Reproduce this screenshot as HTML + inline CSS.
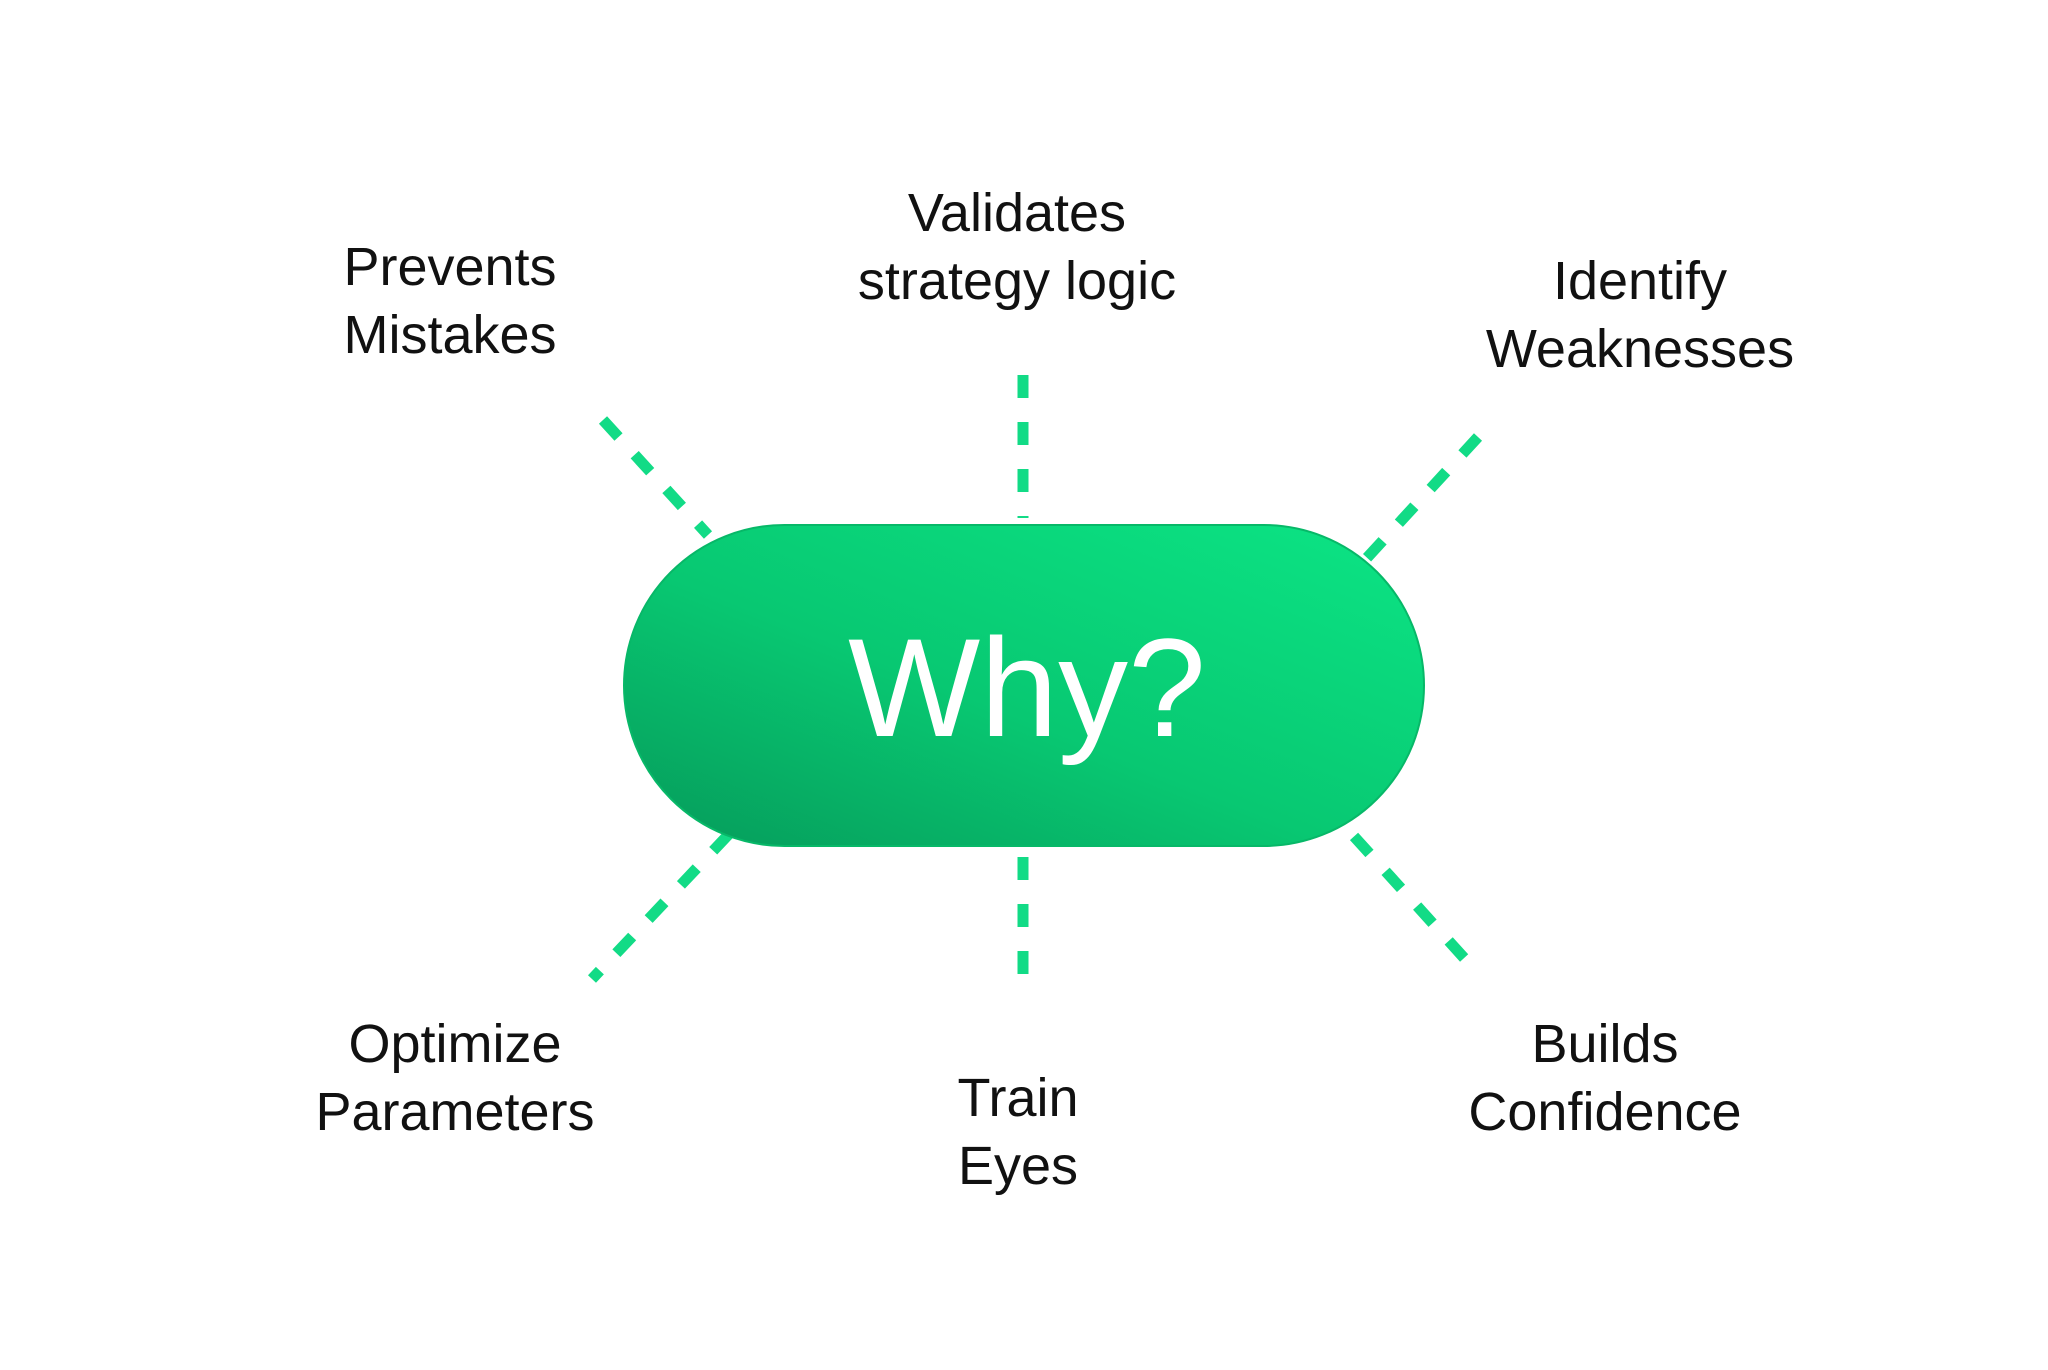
<!DOCTYPE html>
<html><head><meta charset="utf-8"><style>
html,body{margin:0;padding:0;background:#fff;}
body{width:2048px;height:1370px;position:relative;overflow:hidden;font-family:"Liberation Sans",sans-serif;}
.l{position:absolute;font-size:54px;line-height:68px;color:#111;text-align:center;width:600px;}
</style></head><body>
<svg width="2048" height="1370" style="position:absolute;left:0;top:0">
<defs><linearGradient id="g" x1="0" y1="1" x2="1" y2="0">
<stop offset="0" stop-color="#069a5a"/><stop offset="0.45" stop-color="#08c872"/><stop offset="1" stop-color="#0ce585"/></linearGradient></defs>
<g stroke="#12db86" stroke-width="11" stroke-dasharray="23 24" fill="none">
<line x1="603" y1="420" x2="708" y2="535"/>
<line x1="1023" y1="375" x2="1023" y2="518"/>
<line x1="1478" y1="437" x2="1365" y2="560"/>
<line x1="729" y1="834" x2="592" y2="979"/>
<line x1="1023" y1="855" x2="1023" y2="996" stroke-dashoffset="-2"/>
<line x1="1350" y1="832" x2="1475" y2="970" stroke-dashoffset="-6"/>
</g>
<rect x="624" y="525" width="800" height="321" rx="160.5" fill="url(#g)" stroke="#07b868" stroke-width="2"/>
<text x="1027" y="736" font-family="Liberation Sans, sans-serif" font-size="140" fill="#fff" text-anchor="middle">Why?</text>
</svg>
<div class="l" style="left:150px;top:233px">Prevents<br>Mistakes</div>
<div class="l" style="left:717px;top:179px">Validates<br>strategy logic</div>
<div class="l" style="left:1340px;top:247px">Identify<br>Weaknesses</div>
<div class="l" style="left:155px;top:1010px">Optimize<br>Parameters</div>
<div class="l" style="left:718px;top:1064px">Train<br>Eyes</div>
<div class="l" style="left:1305px;top:1010px">Builds<br>Confidence</div>
</body></html>
